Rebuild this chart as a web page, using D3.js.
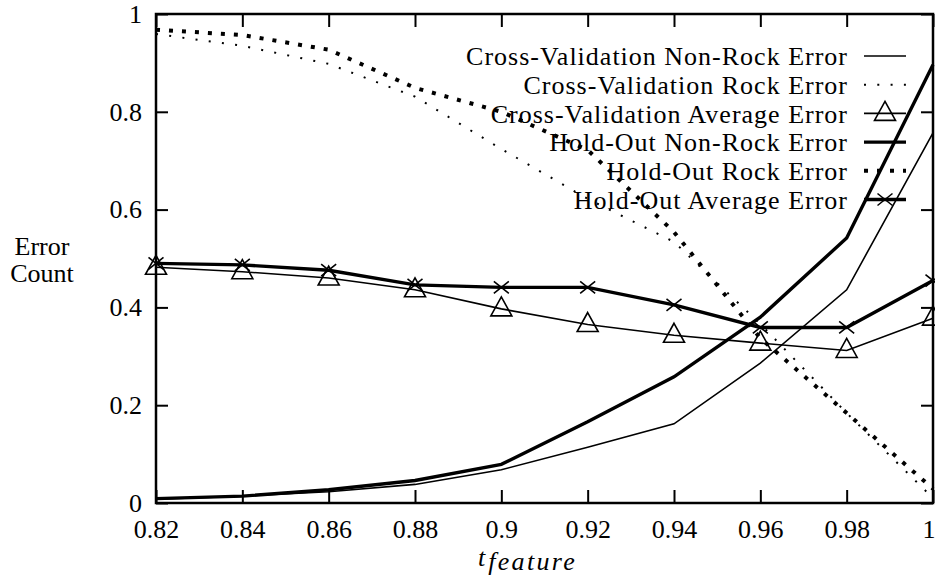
<!DOCTYPE html>
<html>
<head>
<meta charset="utf-8">
<script src="https://cdn.jsdelivr.net/npm/d3@7"></script>
<style>
  html, body { margin: 0; padding: 0; background: #fff; }
  svg { display: block; }
  svg text { font-family: "Liberation Serif", "DejaVu Serif", serif; fill: #000; }
</style>
</head>
<body>
<svg id="chart" width="935" height="576"></svg>
<script>
// Threshold values on the x axis
const thresholds = [0.82, 0.84, 0.86, 0.88, 0.90, 0.92, 0.94, 0.96, 0.98, 1.00];

// Error rates per threshold
const cvNonRock = [0.008, 0.014, 0.023, 0.038, 0.068, 0.114, 0.162, 0.286, 0.436, 0.757];
const cvRock    = [0.959, 0.935, 0.898, 0.831, 0.724, 0.622, 0.534, 0.366, 0.184, 0.010];
const cvAverage = [0.482, 0.473, 0.460, 0.436, 0.397, 0.365, 0.343, 0.327, 0.312, 0.378];
const hoNonRock = [0.009, 0.014, 0.027, 0.046, 0.079, 0.166, 0.258, 0.380, 0.542, 0.896];
const hoRock    = [0.968, 0.957, 0.927, 0.849, 0.800, 0.722, 0.554, 0.337, 0.184, 0.029];
const hoAverage = [0.490, 0.487, 0.476, 0.446, 0.441, 0.441, 0.405, 0.359, 0.359, 0.455];

const seriesNames = [
  "Cross-Validation Non-Rock Error",
  "Cross-Validation Rock Error",
  "Cross-Validation Average Error",
  "Hold-Out Non-Rock Error",
  "Hold-Out Rock Error",
  "Hold-Out Average Error"
];

const xTicks = [0.82, 0.84, 0.86, 0.88, 0.9, 0.92, 0.94, 0.96, 0.98, 1];
const yTicks = [0, 0.2, 0.4, 0.6, 0.8, 1];

const plot = { left: 156, right: 933, top: 14, bottom: 503 };

const svg = d3.select("#chart");
const x = d3.scaleLinear().domain([0.82, 1]).range([plot.left, plot.right]);
const y = d3.scaleLinear().domain([0, 1]).range([plot.bottom, plot.top]);

const fontSize = 26;

// line styles for each series
const styles = [
  { values: cvNonRock, width: 1.6, dash: null, marker: null },
  { values: cvRock,    width: 2,   dash: "2,11.3", marker: null },
  { values: cvAverage, width: 1.6, dash: null, marker: "triangle" },
  { values: hoNonRock, width: 3.4, dash: null, marker: null },
  { values: hoRock,    width: 4,   dash: "4,9", marker: null },
  { values: hoAverage, width: 3.4, dash: null, marker: "cross" }
];

// axes: ticks point inward, mirrored on the top and right edges
const fmt = d => String(d);
const axB = svg.append("g").attr("transform", `translate(0,${plot.bottom})`)
  .call(d3.axisBottom(x).tickValues(xTicks).tickFormat(fmt).tickSizeInner(-13).tickSizeOuter(0).tickPadding(17));
const axT = svg.append("g").attr("transform", `translate(0,${plot.top})`)
  .call(d3.axisTop(x).tickValues(xTicks).tickFormat("").tickSizeInner(-13).tickSizeOuter(0));
const axL = svg.append("g").attr("transform", `translate(${plot.left},0)`)
  .call(d3.axisLeft(y).tickValues(yTicks).tickFormat(fmt).tickSizeInner(-12).tickSizeOuter(0).tickPadding(14));
const axR = svg.append("g").attr("transform", `translate(${plot.right},0)`)
  .call(d3.axisRight(y).tickValues(yTicks).tickFormat("").tickSizeInner(-12).tickSizeOuter(0));

[axB, axT, axL, axR].forEach(g => {
  g.attr("font-family", null);
  g.select(".domain").remove();
  g.selectAll(".tick line").attr("stroke", "#000").attr("stroke-width", 2);
  g.selectAll(".tick text").attr("font-size", fontSize);
});
// the last x label sits at the right edge of the page
axB.selectAll(".tick text").filter(d => d === 1).attr("text-anchor", "end").attr("dx", 2);

// frame
svg.append("rect")
  .attr("x", plot.left).attr("y", plot.top)
  .attr("width", plot.right - plot.left).attr("height", plot.bottom - plot.top)
  .attr("fill", "none").attr("stroke", "#000").attr("stroke-width", 2.5);

// axis titles
const yTitle = svg.append("text").attr("font-size", fontSize).attr("text-anchor", "middle");
yTitle.append("tspan").attr("x", 42).attr("y", 255).text("Error");
yTitle.append("tspan").attr("x", 42).attr("y", 282).text("Count");

const xTitle = svg.append("text").attr("font-size", fontSize)
  .attr("x", 478).attr("y", 566).attr("text-anchor", "start");
xTitle.append("tspan").attr("font-style", "italic").text("t");
xTitle.append("tspan").attr("font-style", "italic").attr("font-size", 26).attr("dx", 3).attr("dy", 4)
  .attr("letter-spacing", 2.3).text("feature");

// markers
function drawMarker(g, type, cx, cy) {
  if (type === "triangle") {
    g.append("path")
      .attr("d", `M${cx},${cy - 12}L${cx + 10.5},${cy + 7}L${cx - 10.5},${cy + 7}Z`)
      .attr("fill", "none").attr("stroke", "#000").attr("stroke-width", 1.6);
  } else if (type === "cross") {
    g.append("path")
      .attr("d", `M${cx - 7.5},${cy - 6}L${cx + 7.5},${cy + 6}M${cx - 7.5},${cy + 6}L${cx + 7.5},${cy - 6}`)
      .attr("fill", "none").attr("stroke", "#000").attr("stroke-width", 1.6);
  }
}

// legend entries and data lines, one series after another
const legendRight = 848, sampleX0 = 864, sampleX1 = 906, rowY0 = 56, rowStep = 28.7;
const line = d3.line().x((d, i) => x(thresholds[i])).y(d => y(d));

styles.forEach((s, k) => {
  const g = svg.append("g");
  const ry = rowY0 + k * rowStep;
  g.append("text")
    .attr("x", legendRight).attr("y", ry).attr("dy", "0.35em")
    .attr("text-anchor", "end").attr("font-size", fontSize)
    .attr("letter-spacing", 1)
    .text(seriesNames[k]);
  g.append("line")
    .attr("x1", sampleX0).attr("x2", sampleX1).attr("y1", ry).attr("y2", ry)
    .attr("stroke", "#000").attr("stroke-width", s.width)
    .attr("stroke-dasharray", s.dash);
  if (s.marker) drawMarker(g, s.marker, (sampleX0 + sampleX1) / 2, ry);

  g.append("path")
    .datum(s.values)
    .attr("d", line)
    .attr("fill", "none").attr("stroke", "#000")
    .attr("stroke-width", s.width)
    .attr("stroke-dasharray", s.dash)
    .attr("stroke-linejoin", "miter");
  if (s.marker) {
    s.values.forEach((v, i) => drawMarker(g, s.marker, x(thresholds[i]), y(v)));
  }
});
</script>
</body>
</html>
